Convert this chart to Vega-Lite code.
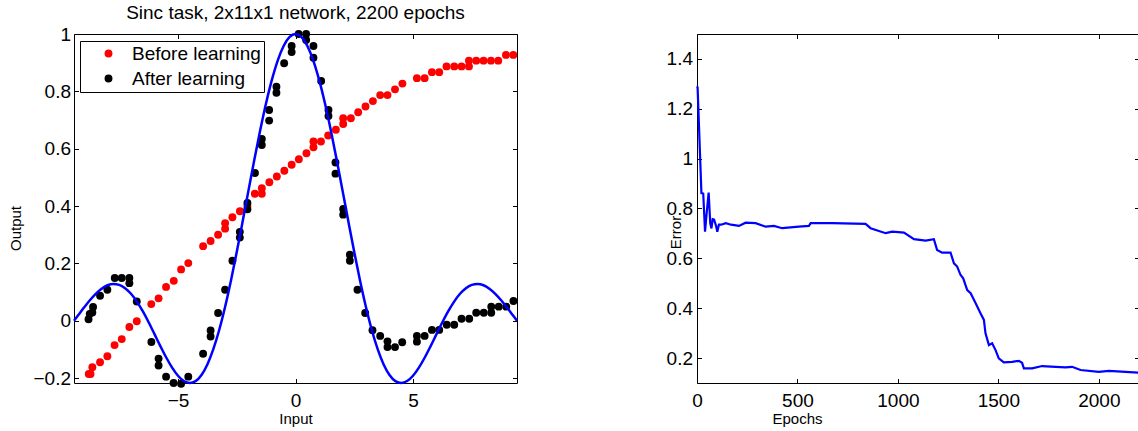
{
  "$schema": "https://vega.github.io/schema/vega-lite/v6.json",
  "padding": {"left": 8, "top": 3, "right": 0, "bottom": 0},
  "bounds": "flush",
  "spacing": 180,
  "config": {
    "font": "Liberation Sans",
    "view": {"stroke": "#000000", "strokeWidth": 1},
    "axis": {"domain": false, "grid": false, "tickColor": "#000000", "tickSize": -4.5, "tickWidth": 1, "labelColor": "#000000", "labelFont": "Liberation Sans", "labelFontSize": 19, "titleFont": "Liberation Sans", "titleFontSize": 15, "titleFontWeight": "normal", "titleColor": "#000000", "labelFlush": false, "labelOverlap": false},
    "axisX": {"labelPadding": 13, "titlePadding": 1},
    "axisY": {"labelPadding": 8}
  },
  "hconcat": [
    {
      "width": 443,
      "height": 349,
      "title": {"text": "Sinc task, 2x11x1 network, 2200 epochs", "fontSize": 19, "fontWeight": "normal", "font": "Liberation Sans", "color": "#000000", "offset": 2},
      "layer": [
        {
          "data": {"values": [
            {"series": "Before learning", "x": -8.797, "y": -0.186},
            {"series": "Before learning", "x": -8.721, "y": -0.186},
            {"series": "Before learning", "x": -8.644, "y": -0.162},
            {"series": "Before learning", "x": -8.316, "y": -0.145},
            {"series": "Before learning", "x": -8.005, "y": -0.124},
            {"series": "Before learning", "x": -7.699, "y": -0.085},
            {"series": "Before learning", "x": -7.393, "y": -0.064},
            {"series": "Before learning", "x": -7.069, "y": -0.022},
            {"series": "Before learning", "x": -6.754, "y": -0.002},
            {"series": "Before learning", "x": -6.137, "y": 0.058},
            {"series": "Before learning", "x": -5.826, "y": 0.078},
            {"series": "Before learning", "x": -5.507, "y": 0.118},
            {"series": "Before learning", "x": -5.179, "y": 0.139},
            {"series": "Before learning", "x": -4.868, "y": 0.179},
            {"series": "Before learning", "x": -4.562, "y": 0.201},
            {"series": "Before learning", "x": -3.931, "y": 0.26},
            {"series": "Before learning", "x": -3.612, "y": 0.278},
            {"series": "Before learning", "x": -3.293, "y": 0.3},
            {"series": "Before learning", "x": -2.995, "y": 0.321},
            {"series": "Before learning", "x": -2.995, "y": 0.34},
            {"series": "Before learning", "x": -2.684, "y": 0.361},
            {"series": "Before learning", "x": -2.365, "y": 0.382},
            {"series": "Before learning", "x": -2.046, "y": 0.4},
            {"series": "Before learning", "x": -1.731, "y": 0.443},
            {"series": "Before learning", "x": -1.433, "y": 0.443},
            {"series": "Before learning", "x": -1.433, "y": 0.462},
            {"series": "Before learning", "x": -1.113, "y": 0.483},
            {"series": "Before learning", "x": -0.794, "y": 0.503},
            {"series": "Before learning", "x": -0.475, "y": 0.523},
            {"series": "Before learning", "x": -0.164, "y": 0.544},
            {"series": "Before learning", "x": 0.143, "y": 0.563},
            {"series": "Before learning", "x": 0.466, "y": 0.584},
            {"series": "Before learning", "x": 0.764, "y": 0.605},
            {"series": "Before learning", "x": 0.764, "y": 0.625},
            {"series": "Before learning", "x": 1.083, "y": 0.625},
            {"series": "Before learning", "x": 1.39, "y": 0.646},
            {"series": "Before learning", "x": 1.718, "y": 0.666},
            {"series": "Before learning", "x": 2.029, "y": 0.686},
            {"series": "Before learning", "x": 2.029, "y": 0.706},
            {"series": "Before learning", "x": 2.356, "y": 0.706},
            {"series": "Before learning", "x": 2.667, "y": 0.727},
            {"series": "Before learning", "x": 2.978, "y": 0.747},
            {"series": "Before learning", "x": 3.293, "y": 0.766},
            {"series": "Before learning", "x": 3.604, "y": 0.787},
            {"series": "Before learning", "x": 3.914, "y": 0.787},
            {"series": "Before learning", "x": 4.234, "y": 0.807},
            {"series": "Before learning", "x": 4.549, "y": 0.827},
            {"series": "Before learning", "x": 5.166, "y": 0.846},
            {"series": "Before learning", "x": 5.494, "y": 0.846},
            {"series": "Before learning", "x": 5.805, "y": 0.867},
            {"series": "Before learning", "x": 6.115, "y": 0.867},
            {"series": "Before learning", "x": 6.426, "y": 0.887},
            {"series": "Before learning", "x": 6.754, "y": 0.887},
            {"series": "Before learning", "x": 7.065, "y": 0.887},
            {"series": "Before learning", "x": 7.38, "y": 0.887},
            {"series": "Before learning", "x": 7.38, "y": 0.907},
            {"series": "Before learning", "x": 7.69, "y": 0.907},
            {"series": "Before learning", "x": 8.001, "y": 0.907},
            {"series": "Before learning", "x": 8.316, "y": 0.907},
            {"series": "Before learning", "x": 8.627, "y": 0.907},
            {"series": "Before learning", "x": 8.955, "y": 0.927},
            {"series": "Before learning", "x": 9.266, "y": 0.927},
            {"series": "After learning", "x": -8.806, "y": 0.005},
            {"series": "After learning", "x": -8.755, "y": 0.024},
            {"series": "After learning", "x": -8.644, "y": 0.029},
            {"series": "After learning", "x": -8.614, "y": 0.048},
            {"series": "After learning", "x": -8.316, "y": 0.087},
            {"series": "After learning", "x": -8.005, "y": 0.108},
            {"series": "After learning", "x": -7.69, "y": 0.149},
            {"series": "After learning", "x": -7.393, "y": 0.149},
            {"series": "After learning", "x": -7.069, "y": 0.149},
            {"series": "After learning", "x": -7.069, "y": 0.131},
            {"series": "After learning", "x": -6.754, "y": 0.067},
            {"series": "After learning", "x": -6.132, "y": -0.074},
            {"series": "After learning", "x": -5.826, "y": -0.132},
            {"series": "After learning", "x": -5.826, "y": -0.156},
            {"series": "After learning", "x": -5.507, "y": -0.195},
            {"series": "After learning", "x": -5.187, "y": -0.217},
            {"series": "After learning", "x": -4.868, "y": -0.22},
            {"series": "After learning", "x": -4.562, "y": -0.195},
            {"series": "After learning", "x": -3.931, "y": -0.115},
            {"series": "After learning", "x": -3.612, "y": -0.034},
            {"series": "After learning", "x": -3.612, "y": -0.055},
            {"series": "After learning", "x": -3.293, "y": 0.027},
            {"series": "After learning", "x": -2.995, "y": 0.108},
            {"series": "After learning", "x": -2.684, "y": 0.209},
            {"series": "After learning", "x": -2.369, "y": 0.31},
            {"series": "After learning", "x": -2.369, "y": 0.29},
            {"series": "After learning", "x": -2.046, "y": 0.411},
            {"series": "After learning", "x": -2.046, "y": 0.389},
            {"series": "After learning", "x": -1.726, "y": 0.515},
            {"series": "After learning", "x": -1.433, "y": 0.634},
            {"series": "After learning", "x": -1.433, "y": 0.613},
            {"series": "After learning", "x": -1.122, "y": 0.735},
            {"series": "After learning", "x": -1.122, "y": 0.698},
            {"series": "After learning", "x": -0.811, "y": 0.816},
            {"series": "After learning", "x": -0.811, "y": 0.795},
            {"series": "After learning", "x": -0.483, "y": 0.898},
            {"series": "After learning", "x": -0.164, "y": 0.958},
            {"series": "After learning", "x": -0.164, "y": 0.937},
            {"series": "After learning", "x": 0.134, "y": 1.0},
            {"series": "After learning", "x": 0.453, "y": 1.0},
            {"series": "After learning", "x": 0.453, "y": 0.979},
            {"series": "After learning", "x": 0.764, "y": 0.958},
            {"series": "After learning", "x": 0.764, "y": 0.917},
            {"series": "After learning", "x": 1.092, "y": 0.836},
            {"series": "After learning", "x": 1.403, "y": 0.735},
            {"series": "After learning", "x": 1.403, "y": 0.714},
            {"series": "After learning", "x": 1.701, "y": 0.552},
            {"series": "After learning", "x": 1.701, "y": 0.513},
            {"series": "After learning", "x": 2.029, "y": 0.39},
            {"series": "After learning", "x": 2.029, "y": 0.37},
            {"series": "After learning", "x": 2.314, "y": 0.23},
            {"series": "After learning", "x": 2.314, "y": 0.209},
            {"series": "After learning", "x": 2.637, "y": 0.108},
            {"series": "After learning", "x": 2.965, "y": 0.027},
            {"series": "After learning", "x": 3.276, "y": -0.033},
            {"series": "After learning", "x": 3.604, "y": -0.053},
            {"series": "After learning", "x": 3.914, "y": -0.072},
            {"series": "After learning", "x": 3.914, "y": -0.092},
            {"series": "After learning", "x": 4.234, "y": -0.092},
            {"series": "After learning", "x": 4.54, "y": -0.075},
            {"series": "After learning", "x": 5.166, "y": -0.053},
            {"series": "After learning", "x": 5.166, "y": -0.073},
            {"series": "After learning", "x": 5.494, "y": -0.053},
            {"series": "After learning", "x": 5.805, "y": -0.032},
            {"series": "After learning", "x": 6.115, "y": -0.032},
            {"series": "After learning", "x": 6.435, "y": -0.014},
            {"series": "After learning", "x": 6.754, "y": -0.014},
            {"series": "After learning", "x": 7.065, "y": 0.007},
            {"series": "After learning", "x": 7.393, "y": 0.007},
            {"series": "After learning", "x": 7.69, "y": 0.028},
            {"series": "After learning", "x": 8.01, "y": 0.028},
            {"series": "After learning", "x": 8.329, "y": 0.028},
            {"series": "After learning", "x": 8.329, "y": 0.049},
            {"series": "After learning", "x": 8.648, "y": 0.049},
            {"series": "After learning", "x": 8.968, "y": 0.049},
            {"series": "After learning", "x": 9.274, "y": 0.069}
          ]},
          "mark": {"type": "point", "filled": true, "size": 62, "opacity": 1},
          "encoding": {
            "x": {"field": "x", "type": "quantitative", "scale": {"domain": [-9.4248, 9.4248], "nice": false, "zero": false}, "axis": {"orient": "bottom", "values": [-5, 0, 5], "title": "Input"}},
            "y": {"field": "y", "type": "quantitative", "scale": {"domain": [-0.2172, 1], "nice": false, "zero": false}, "axis": {"orient": "left", "values": [-0.2, 0, 0.2, 0.4, 0.6, 0.8, 1], "format": ".1~f", "title": "Output", "titlePadding": 9, "titleY": 194}},
            "color": {"field": "series", "type": "nominal", "scale": {"domain": ["Before learning", "After learning"], "range": ["#ff0000", "#000000"]},
              "legend": {"title": null, "orient": "none", "legendX": 6, "legendY": 7, "strokeColor": "#000000", "fillColor": "#ffffff", "padding": 3, "symbolOffset": 16, "labelOffset": 14, "labelFontSize": 19, "labelFont": "Liberation Sans", "labelColor": "#000000", "rowPadding": 5, "symbolType": "circle", "symbolSize": 62, "cornerRadius": 0}}
          }
        },
        {
          "data": {"values": [
            {"x": -9.4248, "y": 0}, {"x": -9.25, "y": 0.0188}, {"x": -9, "y": 0.0458}, {"x": -8.75, "y": 0.0714}, {"x": -8.5, "y": 0.0939}, {"x": -8.25, "y": 0.1118}, {"x": -8, "y": 0.1237}, {"x": -7.75, "y": 0.1283}, {"x": -7.5, "y": 0.1251}, {"x": -7.25, "y": 0.1135}, {"x": -7, "y": 0.0939}, {"x": -6.75, "y": 0.0667}, {"x": -6.5, "y": 0.0331}, {"x": -6.25, "y": -0.0053}, {"x": -6, "y": -0.0466}, {"x": -5.75, "y": -0.0884}, {"x": -5.5, "y": -0.1283}, {"x": -5.25, "y": -0.1636}, {"x": -5, "y": -0.1918}, {"x": -4.75, "y": -0.2104}, {"x": -4.5, "y": -0.2172}, {"x": -4.25, "y": -0.2106}, {"x": -4, "y": -0.1892}, {"x": -3.75, "y": -0.1524}, {"x": -3.5, "y": -0.1002}, {"x": -3.25, "y": -0.0333}, {"x": -3, "y": 0.047}, {"x": -2.75, "y": 0.1388}, {"x": -2.5, "y": 0.2394}, {"x": -2.25, "y": 0.3458}, {"x": -2, "y": 0.4546}, {"x": -1.75, "y": 0.5623}, {"x": -1.5, "y": 0.665}, {"x": -1.25, "y": 0.7592}, {"x": -1, "y": 0.8415}, {"x": -0.75, "y": 0.9089}, {"x": -0.5, "y": 0.9589}, {"x": -0.25, "y": 0.9896}, {"x": 0, "y": 1},
            {"x": 0.25, "y": 0.9896}, {"x": 0.5, "y": 0.9589}, {"x": 0.75, "y": 0.9089}, {"x": 1, "y": 0.8415}, {"x": 1.25, "y": 0.7592}, {"x": 1.5, "y": 0.665}, {"x": 1.75, "y": 0.5623}, {"x": 2, "y": 0.4546}, {"x": 2.25, "y": 0.3458}, {"x": 2.5, "y": 0.2394}, {"x": 2.75, "y": 0.1388}, {"x": 3, "y": 0.047}, {"x": 3.25, "y": -0.0333}, {"x": 3.5, "y": -0.1002}, {"x": 3.75, "y": -0.1524}, {"x": 4, "y": -0.1892}, {"x": 4.25, "y": -0.2106}, {"x": 4.5, "y": -0.2172}, {"x": 4.75, "y": -0.2104}, {"x": 5, "y": -0.1918}, {"x": 5.25, "y": -0.1636}, {"x": 5.5, "y": -0.1283}, {"x": 5.75, "y": -0.0884}, {"x": 6, "y": -0.0466}, {"x": 6.25, "y": -0.0053}, {"x": 6.5, "y": 0.0331}, {"x": 6.75, "y": 0.0667}, {"x": 7, "y": 0.0939}, {"x": 7.25, "y": 0.1135}, {"x": 7.5, "y": 0.1251}, {"x": 7.75, "y": 0.1283}, {"x": 8, "y": 0.1237}, {"x": 8.25, "y": 0.1118}, {"x": 8.5, "y": 0.0939}, {"x": 8.75, "y": 0.0714}, {"x": 9, "y": 0.0458}, {"x": 9.25, "y": 0.0188}, {"x": 9.4248, "y": 0}
          ]},
          "mark": {"type": "line", "color": "#0000ff", "strokeWidth": 2.5, "interpolate": "monotone"},
          "encoding": {
            "x": {"field": "x", "type": "quantitative", "scale": {"domain": [-9.4248, 9.4248], "nice": false, "zero": false}, "axis": {"orient": "top", "values": [-5, 0, 5], "labels": false, "title": null}},
            "y": {"field": "y", "type": "quantitative", "scale": {"domain": [-0.2172, 1], "nice": false, "zero": false}, "axis": {"orient": "right", "values": [-0.2, 0, 0.2, 0.4, 0.6, 0.8, 1], "labels": false, "title": null}}
          }
        }
      ],
      "resolve": {"axis": {"x": "independent", "y": "independent"}}
    },
    {
      "width": 442,
      "height": 349,
      "data": {"values": [
        {"epoch": 0, "error": 1.29}, {"epoch": 3, "error": 1.285}, {"epoch": 22, "error": 0.862}, {"epoch": 31, "error": 0.86}, {"epoch": 40, "error": 0.707}, {"epoch": 48, "error": 0.78}, {"epoch": 58, "error": 0.864}, {"epoch": 66, "error": 0.74}, {"epoch": 72, "error": 0.72}, {"epoch": 78, "error": 0.757}, {"epoch": 85, "error": 0.755}, {"epoch": 95, "error": 0.73}, {"epoch": 101, "error": 0.707}, {"epoch": 109, "error": 0.735}, {"epoch": 120, "error": 0.735}, {"epoch": 143, "error": 0.741}, {"epoch": 170, "error": 0.735}, {"epoch": 209, "error": 0.73}, {"epoch": 242, "error": 0.743}, {"epoch": 292, "error": 0.741}, {"epoch": 342, "error": 0.727}, {"epoch": 383, "error": 0.73}, {"epoch": 424, "error": 0.721}, {"epoch": 507, "error": 0.727}, {"epoch": 557, "error": 0.73}, {"epoch": 566, "error": 0.741}, {"epoch": 673, "error": 0.741}, {"epoch": 839, "error": 0.738}, {"epoch": 864, "error": 0.721}, {"epoch": 939, "error": 0.701}, {"epoch": 972, "error": 0.707}, {"epoch": 1030, "error": 0.703}, {"epoch": 1080, "error": 0.677}, {"epoch": 1138, "error": 0.671}, {"epoch": 1179, "error": 0.677}, {"epoch": 1195, "error": 0.634}, {"epoch": 1220, "error": 0.623}, {"epoch": 1262, "error": 0.623}, {"epoch": 1279, "error": 0.58}, {"epoch": 1295, "error": 0.567}, {"epoch": 1312, "error": 0.533}, {"epoch": 1325, "error": 0.52}, {"epoch": 1345, "error": 0.473}, {"epoch": 1362, "error": 0.46}, {"epoch": 1387, "error": 0.42}, {"epoch": 1411, "error": 0.38}, {"epoch": 1428, "error": 0.353}, {"epoch": 1436, "error": 0.299}, {"epoch": 1453, "error": 0.252}, {"epoch": 1469, "error": 0.259}, {"epoch": 1486, "error": 0.232}, {"epoch": 1502, "error": 0.199}, {"epoch": 1527, "error": 0.183}, {"epoch": 1569, "error": 0.185}, {"epoch": 1602, "error": 0.189}, {"epoch": 1618, "error": 0.181}, {"epoch": 1627, "error": 0.159}, {"epoch": 1668, "error": 0.159}, {"epoch": 1718, "error": 0.168}, {"epoch": 1785, "error": 0.165}, {"epoch": 1834, "error": 0.163}, {"epoch": 1867, "error": 0.165}, {"epoch": 1909, "error": 0.152}, {"epoch": 2000, "error": 0.145}, {"epoch": 2050, "error": 0.149}, {"epoch": 2133, "error": 0.145}, {"epoch": 2200, "error": 0.141}
      ]},
      "layer": [
        {
          "mark": {"type": "line", "color": "#0000ff", "strokeWidth": 2.2},
          "encoding": {
            "x": {"field": "epoch", "type": "quantitative", "scale": {"domain": [0, 2200], "nice": false, "zero": false}, "axis": {"orient": "bottom", "values": [0, 500, 1000, 1500, 2000], "format": "d", "title": "Epochs", "titleX": 100}},
            "y": {"field": "error", "type": "quantitative", "scale": {"domain": [0.1, 1.5], "nice": false, "zero": false}, "axis": {"orient": "left", "values": [0.2, 0.4, 0.6, 0.8, 1, 1.2, 1.4], "format": ".1~f", "title": "Error", "labelPadding": 9, "titleX": -14, "titleY": 198}}
          }
        },
        {
          "mark": {"type": "line", "strokeOpacity": 0},
          "encoding": {
            "x": {"field": "epoch", "type": "quantitative", "scale": {"domain": [0, 2200], "nice": false, "zero": false}, "axis": {"orient": "top", "values": [0, 500, 1000, 1500, 2000], "labels": false, "title": null}},
            "y": {"field": "error", "type": "quantitative", "scale": {"domain": [0.1, 1.5], "nice": false, "zero": false}, "axis": {"orient": "right", "values": [0.2, 0.4, 0.6, 0.8, 1, 1.2, 1.4], "labels": false, "title": null}}
          }
        }
      ],
      "resolve": {"axis": {"x": "independent", "y": "independent"}}
    }
  ]
}
